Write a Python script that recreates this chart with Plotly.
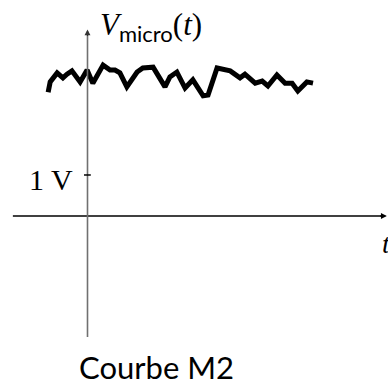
import plotly.graph_objects as go

# Signal (time in arbitrary units, voltage in volts)
t_values = [-0.96, -0.91, -0.74, -0.60, -0.50, -0.38, -0.18, -0.01, 0.13, 0.38,
            0.55, 0.67, 0.79, 0.96, 1.21, 1.35, 1.60, 1.89, 2.01, 2.18,
            2.38, 2.57, 2.82, 2.94, 3.16, 3.48, 3.72, 3.84, 4.09, 4.26,
            4.40, 4.62, 4.82, 4.99, 5.13, 5.35, 5.50]
v_values = [3.02, 3.27, 3.49, 3.37, 3.46, 3.54, 3.27, 3.56, 3.24, 3.68,
            3.56, 3.56, 3.49, 3.15, 3.51, 3.61, 3.63, 3.15, 3.39, 3.51,
            3.12, 3.32, 2.93, 2.95, 3.61, 3.54, 3.37, 3.46, 3.24, 3.29,
            3.17, 3.44, 3.24, 3.24, 3.05, 3.27, 3.24]

tick_value = 1
tick_label = "1 V"
y_label = ('<i>V</i><sub><span style="font-family:Lato;font-size:22px">micro</span></sub>'
           '(<i>t</i>)')
x_label = "<i>t</i>"
caption = "Courbe M2"

X_RANGE = [-2.134, 7.329]
Y_RANGE = [-4.122, 5.268]

fig = go.Figure()
fig.add_trace(go.Scatter(x=t_values, y=v_values, mode="lines",
                         line=dict(color="black", width=5),
                         hoverinfo="skip", showlegend=False))

# axis lines
fig.add_shape(type="line", x0=-1.82, x1=7.25, y0=0, y1=0,
              line=dict(color="black", width=1.3))
fig.add_shape(type="line", x0=0, x1=0, y0=-2.95, y1=4.40,
              line=dict(color="#707070", width=1.6))
# arrow heads (short arrows ending at the axis tips)
fig.add_annotation(x=7.30, y=0, ax=-8, ay=0, xref="x", yref="y",
                   text="", showarrow=True, arrowhead=2, arrowsize=0.9, arrowwidth=1.3,
                   arrowcolor="black")
fig.add_annotation(x=0, y=4.55, ax=0, ay=8, xref="x", yref="y",
                   text="", showarrow=True, arrowhead=2, arrowsize=0.9, arrowwidth=1.3,
                   arrowcolor="#333333")
# tick at 1 V
fig.add_shape(type="line", x0=-0.085, x1=0.08, y0=tick_value, y1=tick_value,
              line=dict(color="black", width=1.5))
fig.add_annotation(x=-0.30, y=0.90, text=tick_label, showarrow=False,
                   xanchor="right", yanchor="middle",
                   font=dict(family="Liberation Serif", size=30, color="black"))
fig.add_annotation(x=0.26, y=4.62, text=y_label, showarrow=False,
                   xanchor="left", yanchor="middle",
                   font=dict(family="Liberation Serif", size=31, color="black"))
fig.add_annotation(x=7.13, y=-0.66, text=x_label, showarrow=False,
                   xanchor="left", yanchor="middle",
                   font=dict(family="Liberation Serif", size=28, color="black"))
fig.add_annotation(x=77 / 388, y=1 - 367 / 385, xref="paper", yref="paper",
                   text=caption, showarrow=False, xanchor="left", yanchor="middle",
                   font=dict(family="Lato", size=31, color="black"))

fig.update_xaxes(range=X_RANGE, visible=False, fixedrange=True)
fig.update_yaxes(range=Y_RANGE, visible=False, fixedrange=True)
fig.update_layout(width=388, height=385, margin=dict(l=0, r=0, t=0, b=0),
                  paper_bgcolor="white", plot_bgcolor="white")
fig.write_html("out.html")
